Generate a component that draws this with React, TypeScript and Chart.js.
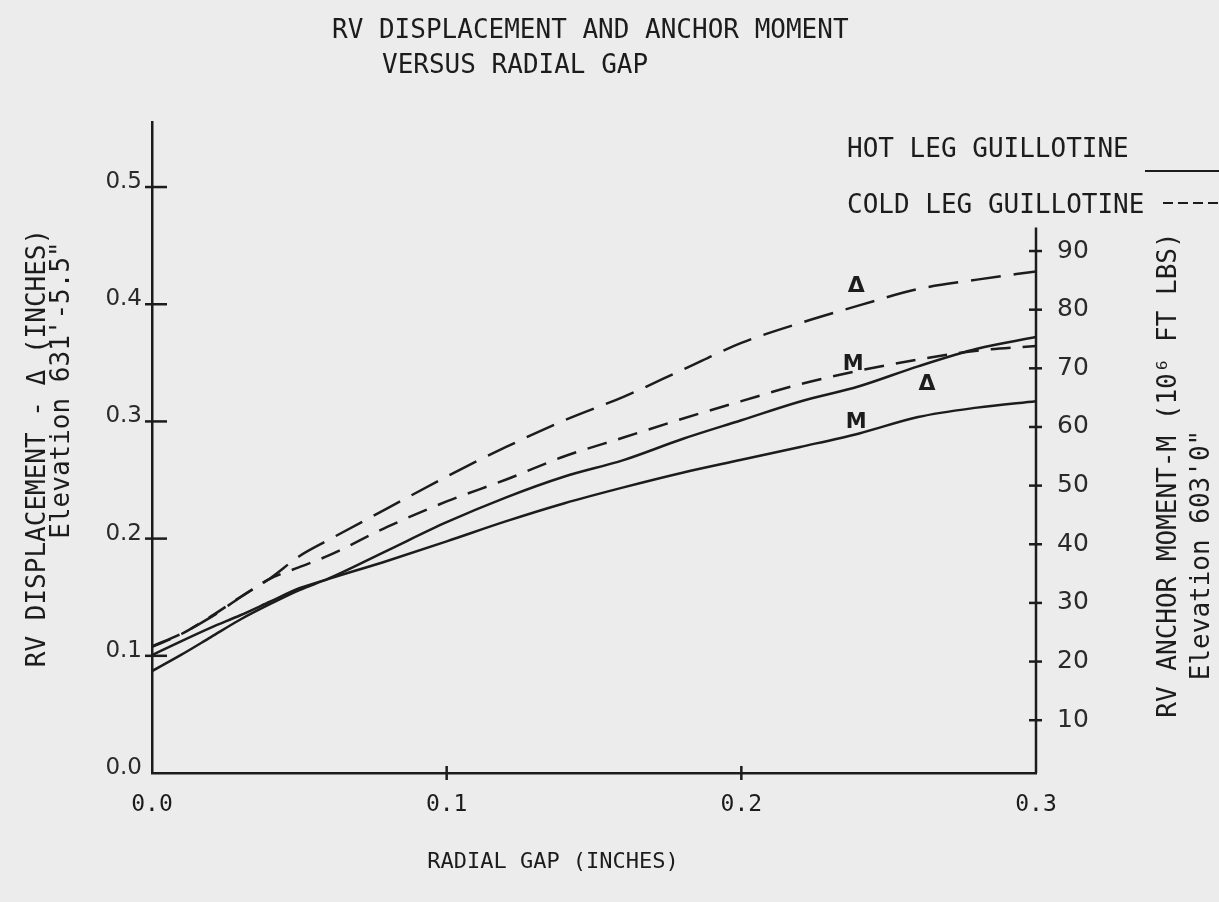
import React, { useEffect, useRef } from 'react';
import { Chart, registerables } from 'chart.js';

Chart.register(...registerables);

// ---------- text ----------
const TITLE_LINES = ['RV DISPLACEMENT AND ANCHOR MOMENT', 'VERSUS RADIAL GAP'];
const X_TITLE = 'RADIAL GAP (INCHES)';
const Y_LEFT_TITLE = ['RV DISPLACEMENT - \u0394 (INCHES)', 'Elevation 631\'-5.5"'];
const Y_RIGHT_TITLE = ['RV ANCHOR MOMENT-M (10\u2076 FT LBS)', 'Elevation 603\'0"'];
const LEGEND_LABELS = ['HOT LEG GUILLOTINE', 'COLD LEG GUILLOTINE'];

// ---------- data ----------
const RADIAL_GAP = [0, 0.01, 0.02, 0.03, 0.04, 0.05, 0.06, 0.08, 0.1, 0.12, 0.14, 0.16, 0.18, 0.2, 0.22, 0.24, 0.26, 0.28, 0.3];
const HOT_DISPLACEMENT = [0.087, 0.101, 0.116, 0.131, 0.144, 0.156, 0.166, 0.19, 0.214, 0.235, 0.253, 0.267, 0.285, 0.301, 0.317, 0.33, 0.347, 0.362, 0.372];
const HOT_MOMENT = [21.1, 23.5, 25.8, 27.9, 30.2, 32.5, 34.1, 37.2, 40.5, 43.9, 47.0, 49.7, 52.2, 54.4, 56.6, 58.9, 61.7, 63.3, 64.4];
const COLD_DISPLACEMENT = [0.108, 0.119, 0.133, 0.15, 0.166, 0.185, 0.199, 0.226, 0.253, 0.278, 0.301, 0.321, 0.344, 0.367, 0.384, 0.399, 0.413, 0.421, 0.428];
const COLD_MOMENT = [22.5, 24.7, 27.7, 31.0, 34.1, 36.1, 38.1, 43.0, 47.3, 51.0, 55.0, 58.2, 61.4, 64.4, 67.3, 69.6, 71.5, 73.0, 73.8];

const X_TICKS = [0, 0.1, 0.2, 0.3];
const X_TICK_LABELS = ['0.0', '0.1', '0.2', '0.3'];
const LEFT_TICKS = [0, 0.1, 0.2, 0.3, 0.4, 0.5];
const LEFT_TICK_LABELS = ['0.0', '0.1', '0.2', '0.3', '0.4', '0.5'];
const RIGHT_TICKS = [10, 20, 30, 40, 50, 60, 70, 80, 90];
const RIGHT_TICK_LABELS = ['10', '20', '30', '40', '50', '60', '70', '80', '90'];

const CURVE_TAGS = [
  { text: '\u0394', x: 0.239, y: 0.415, axis: 'y' },
  { text: 'M', x: 0.238, y: 70.6, axis: 'y1' },
  { text: '\u0394', x: 0.263, y: 0.332, axis: 'y' },
  { text: 'M', x: 0.239, y: 60.7, axis: 'y1' },
];

// ---------- style ----------
const BG = '#ececec';
const INK = '#1c1c1c';
const MONO = '"DejaVu Sans Mono", "Liberation Mono", monospace';
const SANS = '"DejaVu Sans", sans-serif';
const RIGHT_AXIS_TOP = 94;

const pairs = (ys: number[]) => RADIAL_GAP.map((x, i) => ({ x, y: ys[i] }));

const decorPlugin = {
  id: 'decor',
  beforeDraw(chart: any) {
    const ctx = chart.ctx;
    ctx.save();
    ctx.fillStyle = BG;
    ctx.fillRect(0, 0, chart.width, chart.height);
    ctx.restore();
  },
  afterDraw(chart: any) {
    const ctx = chart.ctx;
    const xs = chart.scales.x;
    const yl = chart.scales.y;
    const yr = chart.scales.y1;
    const area = chart.chartArea;
    ctx.save();
    ctx.fillStyle = INK;
    ctx.strokeStyle = INK;

    // title
    ctx.font = `26px ${MONO}`;
    ctx.textAlign = 'left';
    ctx.textBaseline = 'alphabetic';
    ctx.fillText(TITLE_LINES[0], 332, 38);
    ctx.fillText(TITLE_LINES[1], 382, 73);

    // legend
    ctx.fillText(LEGEND_LABELS[0], 847, 157);
    ctx.fillText(LEGEND_LABELS[1], 847, 213);
    ctx.lineWidth = 2;
    ctx.beginPath();
    ctx.moveTo(1145, 171);
    ctx.lineTo(1219, 171);
    ctx.stroke();
    ctx.setLineDash([10, 5]);
    ctx.beginPath();
    ctx.moveTo(1163, 203);
    ctx.lineTo(1219, 203);
    ctx.stroke();
    ctx.setLineDash([]);

    // x title
    ctx.font = `22px ${MONO}`;
    ctx.textAlign = 'center';
    ctx.textBaseline = 'middle';
    ctx.fillText(X_TITLE, 553, 862);

    // y titles
    ctx.font = `26px ${MONO}`;
    const rot = (text: string, cx: number, cy: number) => {
      ctx.save();
      ctx.translate(cx, cy);
      ctx.rotate(-Math.PI / 2);
      ctx.fillText(text, 0, 0);
      ctx.restore();
    };
    rot(Y_LEFT_TITLE[0], 38, 448);
    rot(Y_LEFT_TITLE[1], 62, 390);
    rot(Y_RIGHT_TITLE[0], 1169, 475);
    rot(Y_RIGHT_TITLE[1], 1202, 555);

    // right axis line
    ctx.lineWidth = 2.5;
    ctx.beginPath();
    ctx.moveTo(area.right, area.bottom);
    ctx.lineTo(area.right, yr.getPixelForValue(RIGHT_AXIS_TOP));
    ctx.stroke();

    // tick marks
    ctx.lineWidth = 2.5;
    LEFT_TICKS.forEach((v) => {
      if (v === 0) return;
      const p = yl.getPixelForValue(v);
      ctx.beginPath();
      ctx.moveTo(area.left - 7, p);
      ctx.lineTo(area.left + 15, p);
      ctx.stroke();
    });
    RIGHT_TICKS.forEach((v) => {
      const p = yr.getPixelForValue(v);
      ctx.beginPath();
      ctx.moveTo(area.right - 7, p);
      ctx.lineTo(area.right + 6, p);
      ctx.stroke();
    });
    X_TICKS.forEach((v) => {
      if (v === 0 || v === 0.3) return;
      const p = xs.getPixelForValue(v);
      ctx.beginPath();
      ctx.moveTo(p, area.bottom - 7);
      ctx.lineTo(p, area.bottom + 7);
      ctx.stroke();
    });

    // curve tags
    ctx.textAlign = 'center';
    ctx.textBaseline = 'middle';
    CURVE_TAGS.forEach((t) => {
      const sc = t.axis === 'y' ? yl : yr;
      ctx.font = t.text === 'M' ? `bold 21px ${SANS}` : `bold 22px ${SANS}`;
      ctx.fillText(t.text, xs.getPixelForValue(t.x), sc.getPixelForValue(t.y));
    });

    ctx.restore();
  },
};

export default function App() {
  const canvasRef = useRef<HTMLCanvasElement | null>(null);

  useEffect(() => {
    const canvas = canvasRef.current;
    if (!canvas) return;
    const noGrid = { display: false, drawTicks: false, tickLength: 0 };
    const chart = new Chart(canvas, {
      type: 'line',
      data: {
        datasets: [
          {
            label: 'Hot leg \u0394',
            data: pairs(HOT_DISPLACEMENT),
            yAxisID: 'y',
            borderColor: INK,
            borderWidth: 2.5,
            pointRadius: 0,
            cubicInterpolationMode: 'monotone',
          },
          {
            label: 'Hot leg M',
            data: pairs(HOT_MOMENT),
            yAxisID: 'y1',
            borderColor: INK,
            borderWidth: 2.5,
            pointRadius: 0,
            cubicInterpolationMode: 'monotone',
          },
          {
            label: 'Cold leg \u0394',
            data: pairs(COLD_DISPLACEMENT),
            yAxisID: 'y',
            borderColor: INK,
            borderWidth: 2.5,
            borderDash: [30, 13],
            pointRadius: 0,
            cubicInterpolationMode: 'monotone',
          },
          {
            label: 'Cold leg M',
            data: pairs(COLD_MOMENT),
            yAxisID: 'y1',
            borderColor: INK,
            borderWidth: 2.5,
            borderDash: [20, 12],
            pointRadius: 0,
            cubicInterpolationMode: 'monotone',
          },
        ],
      },
      options: {
        animation: false,
        responsive: true,
        maintainAspectRatio: false,
        layout: { padding: { top: 122, left: 0, right: 0, bottom: 0 } },
        plugins: {
          legend: { display: false },
          tooltip: { enabled: false },
          title: { display: false },
        },
        scales: {
          x: {
            type: 'linear',
            min: 0,
            max: 0.3,
            grid: noGrid,
            border: { display: true, color: INK, width: 2.5 },
            afterBuildTicks: (s: any) => {
              s.ticks = X_TICKS.map((value) => ({ value }));
            },
            afterFit: (s: any) => {
              s.height = 129;
            },
            ticks: {
              autoSkip: false,
              maxRotation: 0,
              padding: 18,
              color: INK,
              font: { family: MONO, size: 23 },
              callback: (v: any) => X_TICK_LABELS[X_TICKS.indexOf(Number(v))] ?? '',
            },
          },
          y: {
            type: 'linear',
            position: 'left',
            min: 0,
            max: 0.5555,
            grid: noGrid,
            border: { display: true, color: INK, width: 2.5 },
            afterBuildTicks: (s: any) => {
              s.ticks = LEFT_TICKS.map((value) => ({ value }));
            },
            afterFit: (s: any) => {
              s.width = 152;
            },
            ticks: {
              autoSkip: false,
              padding: 10,
              labelOffset: -5,
              color: '#2a2a2a',
              font: { family: SANS, size: 23 },
              callback: (v: any) => LEFT_TICK_LABELS[LEFT_TICKS.indexOf(Number(v))] ?? '',
            },
          },
          y1: {
            type: 'linear',
            position: 'right',
            min: 1,
            max: 112,
            grid: noGrid,
            border: { display: false },
            afterBuildTicks: (s: any) => {
              s.ticks = RIGHT_TICKS.map((value) => ({ value }));
            },
            afterFit: (s: any) => {
              s.width = 183;
            },
            ticks: {
              autoSkip: false,
              padding: 21,
              color: '#2a2a2a',
              font: { family: SANS, size: 25 },
              callback: (v: any) => RIGHT_TICK_LABELS[RIGHT_TICKS.indexOf(Number(v))] ?? '',
            },
          },
        },
      },
      plugins: [decorPlugin],
    } as any);
    return () => chart.destroy();
  }, []);

  return (
    <div style={{ position: 'absolute', left: 0, top: 0, width: 1219, height: 902, background: BG }}>
      <canvas ref={canvasRef} />
    </div>
  );
}
